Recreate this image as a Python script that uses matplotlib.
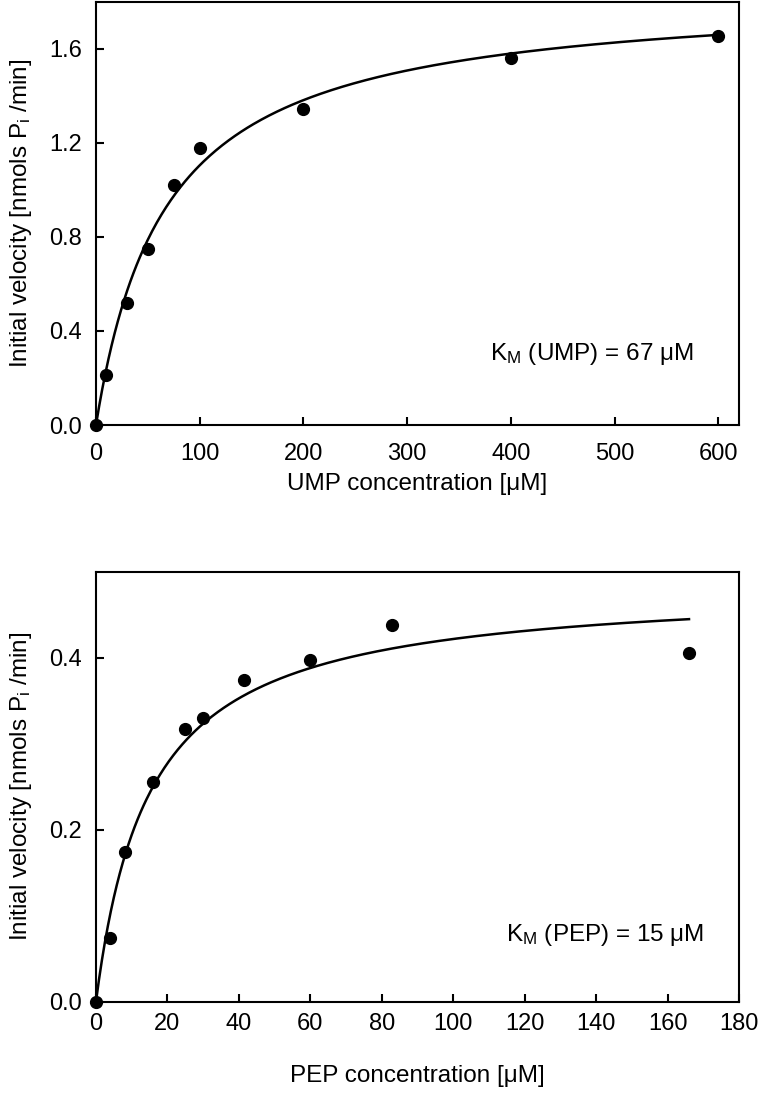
import numpy as np
import matplotlib
matplotlib.use('Agg')
import matplotlib.pyplot as plt

plt.rcParams['font.family'] = ['Liberation Sans', 'DejaVu Sans']
plt.rcParams['mathtext.fontset'] = 'custom'
plt.rcParams['mathtext.rm'] = 'Liberation Sans'
plt.rcParams['mathtext.it'] = 'Liberation Sans'

# UMP panel
ump_conc = [0, 10, 30, 50, 75, 100, 200, 400, 600]
ump_vel = [0.0, 0.212, 0.519, 0.75, 1.019, 1.177, 1.344, 1.563, 1.657]
ump_km = 67.0
ump_vmax = 1.845

# PEP panel
pep_conc = [0, 4, 8, 16, 25, 30, 41.5, 60, 83, 166]
pep_vel = [0.0, 0.074, 0.174, 0.256, 0.317, 0.330, 0.374, 0.397, 0.438, 0.406]
pep_km = 15.0
pep_vmax = 0.485

fig = plt.figure(figsize=(7.6, 11.12), dpi=100)
ax1 = fig.add_axes([0.1263, 0.6178, 0.8461, 0.3805])
ax2 = fig.add_axes([0.1263, 0.0992, 0.8461, 0.3867])

def style(ax, xpad):
    for s in ax.spines.values():
        s.set_linewidth(1.5)
    ax.tick_params(direction='in', length=6, width=1.5, labelsize=17,
                   top=False, right=False)
    ax.tick_params(axis='x', pad=xpad)
    ax.tick_params(axis='y', pad=10)

def mm(s, vmax, km):
    return vmax * s / (km + s)

ylabel = 'Initial velocity [nmols P$_\\mathregular{i}$ /min]'

# top
xs = np.linspace(0, max(ump_conc), 400)
ax1.plot(xs, mm(xs, ump_vmax, ump_km), color='black', lw=1.8)
ax1.plot(ump_conc, ump_vel, 'o', color='black', ms=8.5, clip_on=False, zorder=5)
ax1.set_xlim(0, 620)
ax1.set_ylim(0, 1.8)
ax1.set_xticks(range(0, 601, 100))
ax1.set_yticks([0.0, 0.4, 0.8, 1.2, 1.6])
ax1.set_yticklabels(['0.0', '0.4', '0.8', '1.2', '1.6'])
style(ax1, 13)
ax1.set_xlabel('UMP concentration [\u03bcM]', fontsize=17.5, labelpad=6)
ax1.set_ylabel(ylabel, fontsize=17.5, labelpad=11)
ax1.text(380, 0.30, 'K$_\\mathregular{M}$ (UMP) = 67 \u03bcM', fontsize=17.5, va='center', ha='left')

# bottom
xs2 = np.linspace(0, max(pep_conc), 400)
ax2.plot(xs2, mm(xs2, pep_vmax, pep_km), color='black', lw=1.8)
ax2.plot(pep_conc, pep_vel, 'o', color='black', ms=8.5, clip_on=False, zorder=5)
ax2.set_xlim(0, 180)
ax2.set_ylim(0, 0.5)
ax2.set_xticks(range(0, 181, 20))
ax2.set_yticks([0.0, 0.2, 0.4])
ax2.set_yticklabels(['0.0', '0.2', '0.4'])
style(ax2, 8)
ax2.set_xlabel('PEP concentration [\u03bcM]', fontsize=17.5, labelpad=22)
ax2.set_ylabel(ylabel, fontsize=17.5, labelpad=11)
ax2.text(114.8, 0.078, 'K$_\\mathregular{M}$ (PEP) = 15 \u03bcM', fontsize=17.5, va='center', ha='left')

fig.savefig('out.png', dpi=100)
